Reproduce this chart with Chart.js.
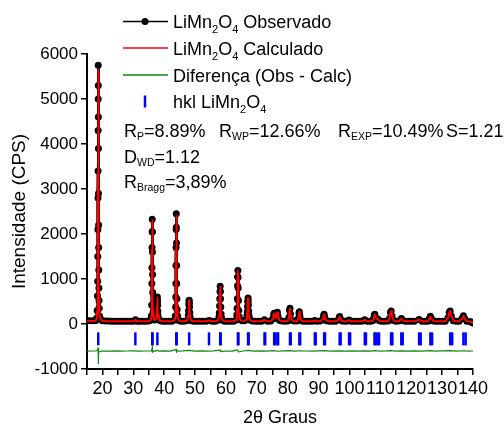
<!DOCTYPE html>
<html>
<head>
<meta charset="utf-8">
<script src="https://cdn.jsdelivr.net/npm/chart.js@4/dist/chart.umd.min.js"></script>
<style>
  html, body { margin: 0; padding: 0; background: #fff; }
  canvas { display: block; }
</style>
</head>
<body>
<canvas id="chart" width="504" height="432"></canvas>
<script>
// 2theta positions shared by the observed and calculated profiles
var twoTheta = [
  15, 16, 17, 17.8, 18.1, 18.3, 18.4, 18.45, 18.5, 18.53,
  18.56, 18.58, 18.6, 18.62, 18.64, 18.66, 18.68, 18.7, 18.73, 18.76,
  18.78, 18.82, 18.85, 18.9, 18.95, 19.1, 19.4, 20, 21, 22,
  23, 24, 25, 26, 27, 28, 29, 30, 30.66, 31.3,
  32, 33, 34, 35, 35.7, 35.85, 35.95, 36.0, 36.03, 36.07,
  36.1, 36.13, 36.16, 36.2, 36.24, 36.28, 36.33, 36.4, 36.5, 36.6,
  36.9, 37.2, 37.55, 37.65, 37.7, 37.75, 37.79, 37.84, 37.88, 37.94,
  38.0, 38.3, 38.8, 39.5, 40.5, 41.5, 42.5, 43.4, 43.6, 43.7,
  43.75, 43.78, 43.82, 43.85, 43.88, 43.91, 43.94, 43.98, 44.02, 44.06,
  44.11, 44.18, 44.28, 44.4, 44.8, 45.5, 46.5, 47.5, 47.8, 47.9,
  47.97, 48.03, 48.09, 48.15, 48.2, 48.28, 48.38, 48.7, 49.5, 50.5,
  51.5, 52.5, 53.5, 54.51, 55.5, 56.5, 57.5, 57.75, 57.85, 57.93,
  58.0, 58.07, 58.13, 58.19, 58.25, 58.33, 58.42, 58.55, 58.8, 59.5,
  60.5, 61.5, 62.5, 63.3, 63.5, 63.6, 63.68, 63.76, 63.81, 63.86,
  63.91, 63.97, 64.05, 64.14, 64.28, 64.5, 65.2, 66, 66.6, 66.8,
  66.9, 66.98, 67.05, 67.16, 67.22, 67.28, 67.36, 67.45, 67.6, 67.8,
  68.5, 69.5, 70.5, 71.5, 72.49, 73.5, 74.5, 75.2, 75.45, 75.62,
  75.8, 76.1, 76.45, 76.65, 76.85, 77.3, 78, 79, 80, 80.4,
  80.6, 80.73, 80.9, 81.3, 82, 83, 83.45, 83.65, 83.77, 83.95,
  84.4, 85, 86, 87, 88, 88.78, 89.5, 90.5, 91.45, 91.65,
  91.79, 91.98, 92.5, 93.5, 94.5, 95.5, 96.45, 96.7, 96.82, 97.05,
  97.6, 98.5, 99.2, 99.87, 100.5, 101.5, 102.5, 103.5, 104.3, 104.96,
  105.8, 106.8, 107.5, 107.8, 108.05, 108.2, 108.5, 109.17, 109.7, 110.5,
  111.5, 112.5, 113.0, 113.3, 113.5, 113.75, 114.3, 115, 116, 116.8,
  117.3, 118, 119, 120, 121, 122.54, 123.5, 124.5, 125.4, 125.9,
  126.2, 126.5, 127.2, 128, 129, 130, 131, 131.9, 132.3, 132.6,
  133.0, 133.6, 134.5, 135.5, 136.4, 136.9, 137.3, 138, 139, 139.6, 140
];

var observed = [
  80, 75, 72, 80, 130, 300, 620, 950, 1500, 2100,
  2800, 3400, 4300, 5000, 5750, 5300, 4600, 3900, 2900, 2200,
  1700, 1200, 800, 520, 350, 170, 100, 75, 68, 65,
  63, 62, 63, 61, 62, 60, 62, 63, 95, 62,
  60, 61, 62, 64, 90, 180, 420, 900, 1250, 1700,
  2050, 2330, 2050, 1600, 1100, 700, 420, 260, 170, 130,
  90, 100, 180, 290, 400, 520, 600, 510, 420, 290,
  190, 95, 70, 63, 62, 61, 63, 90, 180, 380,
  600, 900, 1300, 1700, 2100, 2450, 2150, 1800, 1300, 900,
  560, 320, 190, 130, 80, 63, 62, 80, 200, 300,
  430, 500, 530, 460, 380, 260, 160, 80, 62, 61,
  62, 61, 62, 80, 62, 63, 85, 160, 250, 400,
  560, 720, 840, 720, 560, 380, 220, 140, 90, 63,
  62, 61, 63, 90, 200, 350, 560, 850, 1050, 1190,
  1040, 800, 520, 300, 160, 100, 72, 70, 100, 190,
  280, 390, 500, 580, 510, 420, 290, 190, 130, 90,
  64, 62, 61, 63, 95, 63, 66, 120, 210, 240,
  170, 130, 220, 260, 170, 85, 64, 62, 68, 150,
  300, 350, 220, 90, 64, 66, 130, 240, 275, 180,
  80, 63, 61, 62, 63, 80, 62, 64, 120, 190,
  215, 150, 75, 62, 61, 63, 100, 150, 165, 110,
  65, 62, 64, 90, 63, 61, 62, 61, 64, 95,
  63, 62, 70, 120, 200, 215, 140, 110, 70, 62,
  61, 64, 130, 260, 290, 180, 80, 63, 64, 120,
  80, 61, 60, 61, 60, 100, 62, 60, 62, 120,
  170, 120, 65, 60, 59, 60, 62, 140, 260, 290,
  180, 75, 60, 62, 120, 185, 120, 60, 55, 40, 20
];

var calculated = [
  70, 68, 66, 72, 120, 280, 560, 880, 1350, 1950,
  2700, 3350, 4300, 5050, 5650, 5350, 4700, 4000, 3000, 2300,
  1800, 1250, 850, 560, 380, 180, 105, 70, 65, 63,
  62, 61, 61, 60, 60, 60, 60, 61, 90, 60,
  60, 60, 61, 62, 85, 175, 400, 850, 1220, 1650,
  2000, 2300, 2100, 1700, 1180, 750, 450, 280, 180, 140,
  95, 100, 175, 280, 390, 510, 590, 520, 430, 300,
  200, 95, 70, 62, 61, 61, 62, 88, 175, 370,
  590, 880, 1270, 1650, 2050, 2400, 2180, 1850, 1380, 950,
  600, 340, 200, 135, 80, 62, 61, 78, 190, 290,
  420, 490, 520, 470, 390, 270, 165, 80, 62, 61,
  61, 60, 61, 78, 61, 62, 82, 155, 240, 390,
  550, 710, 830, 730, 580, 400, 230, 145, 90, 63,
  61, 61, 62, 88, 190, 330, 540, 830, 1030, 1180,
  1060, 820, 550, 320, 170, 100, 72, 70, 95, 185,
  270, 380, 490, 575, 515, 430, 300, 200, 135, 90,
  63, 62, 61, 62, 90, 62, 65, 115, 200, 235,
  175, 130, 215, 255, 175, 85, 63, 62, 66, 140,
  290, 340, 230, 90, 63, 65, 125, 235, 270, 185,
  80, 62, 61, 61, 62, 78, 62, 63, 115, 185,
  210, 155, 75, 62, 61, 62, 98, 145, 160, 112,
  65, 62, 63, 85, 63, 61, 61, 61, 63, 90,
  62, 62, 68, 115, 195, 210, 145, 108, 70, 62,
  61, 63, 125, 255, 280, 190, 80, 62, 63, 115,
  80, 61, 60, 60, 60, 95, 61, 60, 61, 115,
  165, 125, 65, 60, 59, 60, 61, 135, 255, 285,
  185, 75, 60, 61, 115, 180, 125, 60, 55, 42, 25
];

// difference curve (Obs - Calc), drawn shifted to about -600
var diffTheta = [
  15, 16.5, 18.0, 18.5, 18.58, 18.64, 18.7, 18.78, 19.0, 20,
  22, 24, 26, 28, 30, 32, 34, 35.9, 36.05, 36.13,
  36.22, 36.4, 37.0, 37.79, 38.4, 40, 42, 43.85, 43.93, 44.05,
  44.5, 46, 48.09, 50, 52, 54, 56, 58.1, 58.3, 60,
  62, 63.85, 64.0, 65.5, 67.15, 69, 71, 73, 75.6, 76.7,
  78.5, 80.7, 82.5, 83.8, 86, 88, 90, 91.8, 94, 96.8,
  99, 101, 103, 105, 107, 108.2, 110, 112, 113.5, 115,
  117, 119, 121, 123, 125, 126.2, 128, 130, 132.6, 134.5,
  136.9, 138.5, 140
];
var difference = [
  -605, -600, -598, -570, -530, -700, -880, -660, -610, -600,
  -604, -598, -603, -600, -597, -603, -600, -598, -540, -470,
  -630, -598, -603, -585, -602, -598, -604, -565, -630, -590,
  -602, -598, -588, -603, -598, -603, -598, -580, -615, -600,
  -603, -575, -622, -600, -588, -603, -598, -602, -592, -606,
  -598, -590, -604, -594, -600, -603, -598, -592, -604, -596,
  -601, -597, -603, -597, -602, -590, -603, -598, -590, -604,
  -596, -602, -598, -603, -597, -593, -603, -598, -590, -603,
  -594, -601, -600
];

// hkl reflection markers (Ka1 and Ka2)
var hklPositions = [
  18.64, 30.66, 36.13, 36.22, 37.79, 43.91, 44.03, 48.09, 54.51, 58.13, 58.29,
  63.86, 64.04, 67.16, 67.35, 72.49, 72.70, 75.62, 75.84, 76.65, 76.88,
  80.73, 80.97, 83.77, 84.03, 88.78, 89.06, 91.79, 92.08, 96.82, 97.14,
  99.87, 100.21, 104.96, 105.33, 108.10, 108.49, 109.17, 109.57, 113.46, 113.89,
  116.78, 117.24, 122.54, 123.06, 126.20, 126.76, 132.61, 133.26, 136.90, 137.62
];
var hklLevel = -330;

var legendRows = [
  ['LiMn', ['2'], 'O', ['4'], ' Observado'],
  ['LiMn', ['2'], 'O', ['4'], ' Calculado'],
  ['Diferença (Obs - Calc)'],
  ['hkl LiMn', ['2'], 'O', ['4']]
];
var statsRow1 = [
  ['R', ['P'], '=8.89%'],
  ['R', ['WP'], '=12.66%'],
  ['R', ['EXP'], '=10.49%'],
  ['S=1.21']
];
var statsRow2 = ['D', ['WD'], '=1.12'];
var statsRow3 = ['R', ['Bragg'], '=3,89%'];

var family = "'Liberation Sans', Arial, Helvetica, sans-serif";

function xy(xs, ys) {
  return xs.map(function (x, i) { return { x: x, y: ys[i] }; });
}

function richText(ctx, x, y, parts, size, subSize, subDy) {
  parts.forEach(function (p) {
    var sub = Array.isArray(p);
    var t = sub ? p[0] : p;
    ctx.font = (sub ? subSize : size) + 'px ' + family;
    ctx.fillText(t, x, y + (sub ? subDy : 0));
    x += ctx.measureText(t).width;
  });
}

var textPlugin = {
  id: 'texts',
  afterDraw: function (chart) {
    var ctx = chart.ctx;
    ctx.save();
    ctx.fillStyle = '#000';
    ctx.textBaseline = 'alphabetic';
    ctx.textAlign = 'left';

    // legend samples
    var rowsY = [21.5, 48, 75, 101.5];
    ctx.lineWidth = 1.5;
    ctx.strokeStyle = '#000';
    ctx.beginPath(); ctx.moveTo(123, rowsY[0]); ctx.lineTo(168, rowsY[0]); ctx.stroke();
    ctx.beginPath(); ctx.arc(145, rowsY[0], 3.5, 0, Math.PI * 2); ctx.fill();
    ctx.strokeStyle = '#ff0000';
    ctx.beginPath(); ctx.moveTo(123, rowsY[1]); ctx.lineTo(168, rowsY[1]); ctx.stroke();
    ctx.strokeStyle = '#118811';
    ctx.beginPath(); ctx.moveTo(123, rowsY[2]); ctx.lineTo(168, rowsY[2]); ctx.stroke();
    ctx.strokeStyle = '#0000ff';
    ctx.lineWidth = 2.5;
    ctx.beginPath(); ctx.moveTo(145, rowsY[3] - 6); ctx.lineTo(145, rowsY[3] + 6); ctx.stroke();

    legendRows.forEach(function (row, i) {
      richText(ctx, 173, rowsY[i] + 6.5, row, 18, 11, 5);
    });

    var xs = [124, 219, 338, 446];
    statsRow1.forEach(function (parts, i) {
      richText(ctx, xs[i], 137, parts, 18, 10.5, 3);
    });
    richText(ctx, 124, 163, statsRow2, 18, 10.5, 3);
    richText(ctx, 124, 188, statsRow3, 18, 10.5, 3);
    ctx.restore();
  }
};

new Chart(document.getElementById('chart').getContext('2d'), {
  type: 'line',
  data: {
    datasets: [
      {
        label: 'Calculado',
        data: xy(twoTheta, calculated),
        borderColor: '#ff0000',
        borderWidth: 2,
        borderJoinStyle: 'round',
        borderCapStyle: 'round',
        pointRadius: 0,
        order: 1
      },
      {
        label: 'Observado',
        data: xy(twoTheta, observed),
        borderColor: '#000',
        borderWidth: 3,
        borderJoinStyle: 'round',
        borderCapStyle: 'round',
        pointRadius: 3.5,
        pointBackgroundColor: '#000',
        pointBorderWidth: 0,
        order: 2
      },
      {
        label: 'Diferença',
        data: xy(diffTheta, difference),
        borderColor: '#118811',
        borderWidth: 1.2,
        borderJoinStyle: 'round',
        pointRadius: 0,
        order: 3
      },
      {
        label: 'hkl',
        type: 'scatter',
        data: hklPositions.map(function (x) { return { x: x, y: hklLevel }; }),
        showLine: false,
        pointStyle: 'line',
        rotation: 90,
        pointRadius: 6.5,
        borderColor: '#0000ff',
        borderWidth: 2.5,
        order: 4
      }
    ]
  },
  options: {
    responsive: false,
    animation: false,
    devicePixelRatio: 1,
    layout: { padding: { left: 0, right: 31, top: 54, bottom: 0 } },
    elements: { line: { tension: 0 } },
    plugins: { legend: { display: false }, tooltip: { enabled: false } },
    scales: {
      x: {
        type: 'linear',
        min: 15,
        max: 140,
        afterFit: function (s) { s.height = 63; },
        ticks: {
          stepSize: 5,
          autoSkip: false,
          maxRotation: 0,
          padding: 3,
          color: '#000',
          font: { size: 18, family: family },
          callback: function (v) { return v % 10 === 0 ? v : ''; }
        },
        grid: { drawOnChartArea: false, tickLength: 6, color: '#000', lineWidth: 1.5 },
        border: { color: '#000', width: 2 },
        title: {
          display: true,
          text: '2θ Graus',
          color: '#000',
          font: { size: 18, family: family },
          padding: { top: 0, bottom: 3 }
        }
      },
      y: {
        min: -1000,
        max: 6000,
        afterFit: function (s) { s.width = 87; },
        ticks: {
          stepSize: 500,
          padding: 3,
          color: '#000',
          font: { size: 17, family: family },
          callback: function (v) { return v % 1000 === 0 ? v : ''; }
        },
        grid: { drawOnChartArea: false, tickLength: 6, color: '#000', lineWidth: 1.5 },
        border: { color: '#000', width: 2 },
        title: {
          display: true,
          text: 'Intensidade (CPS)',
          color: '#000',
          font: { size: 19, family: family },
          padding: { top: 8, bottom: 0 }
        }
      }
    }
  },
  plugins: [textPlugin]
});
</script>
</body>
</html>
